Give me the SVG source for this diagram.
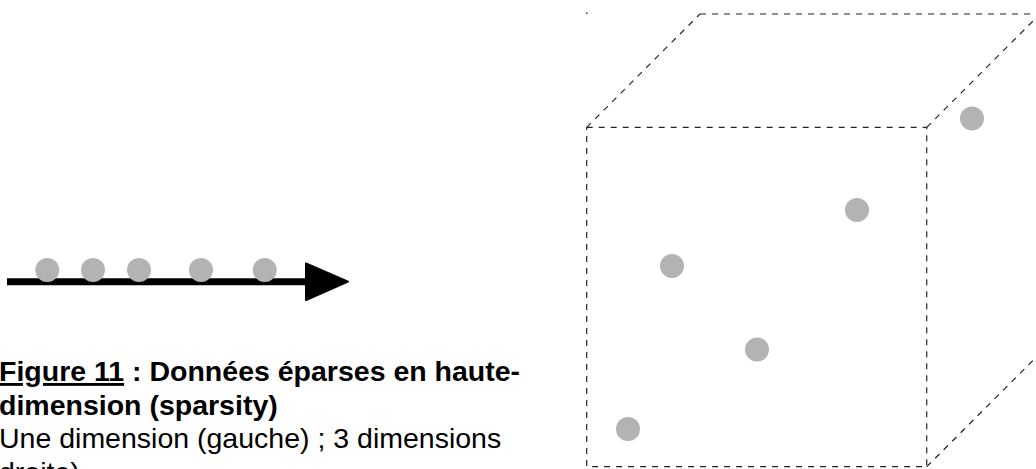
<svg xmlns="http://www.w3.org/2000/svg" width="1036" height="469" viewBox="0 0 1036 469">
  <style>
    .pt { fill: #b3b3b3; }
    .edge { fill: none; stroke: #222; stroke-width: 1.2; stroke-dasharray: 6 6; }
    .cap { font-family: "Liberation Sans", Arial, sans-serif; font-size: 28.5px; fill: #000; }
    .b { font-weight: bold; }
  </style>
  <rect width="1036" height="469" fill="#fff"/>

  <g id="axis-1d">
    <line x1="7" y1="281.7" x2="310" y2="281.7" stroke="#000" stroke-width="7"/>
    <polygon points="306,263.5 348,281.7 306,300" fill="#000" stroke="#000" stroke-width="2" stroke-linejoin="round"/>
  </g>
  <g id="points-1d">
    <circle class="pt" cx="47.3" cy="270" r="12"/>
    <circle class="pt" cx="93" cy="270" r="12"/>
    <circle class="pt" cx="139" cy="270" r="12"/>
    <circle class="pt" cx="201" cy="270" r="12"/>
    <circle class="pt" cx="264.7" cy="270" r="12"/>
  </g>

  <g id="cube">
    <polyline class="edge" points="586.7,127.3 926.7,127.3 926.7,466.7 586.7,466.7 586.7,127.3"/>
    <line class="edge" x1="586.7" y1="127.3" x2="700" y2="14"/>
    <line class="edge" x1="700" y1="14" x2="1040" y2="14"/>
    <line class="edge" x1="926.7" y1="127.3" x2="1040" y2="14"/>
    <line class="edge" x1="926.7" y1="466.7" x2="1040" y2="353.4"/>
    <rect x="586" y="12.5" width="1.5" height="1.5" fill="#333"/>
  </g>
  <g id="points-3d">
    <circle class="pt" cx="972" cy="118.5" r="12"/>
    <circle class="pt" cx="857" cy="210" r="12"/>
    <circle class="pt" cx="672" cy="266" r="12"/>
    <circle class="pt" cx="757" cy="349.5" r="12"/>
    <circle class="pt" cx="628" cy="429" r="12"/>
  </g>

  <g id="caption">
    <text class="cap b" x="-1" y="381"><tspan text-decoration="underline">Figure 11</tspan> : Données éparses en haute-</text>
    <text class="cap b" x="-1" y="414.5">dimension (sparsity)</text>
    <text class="cap" x="-1" y="448">Une dimension (gauche) ; 3 dimensions</text>
    <text class="cap" x="-1" y="481.5">droite)</text>
  </g>
</svg>
